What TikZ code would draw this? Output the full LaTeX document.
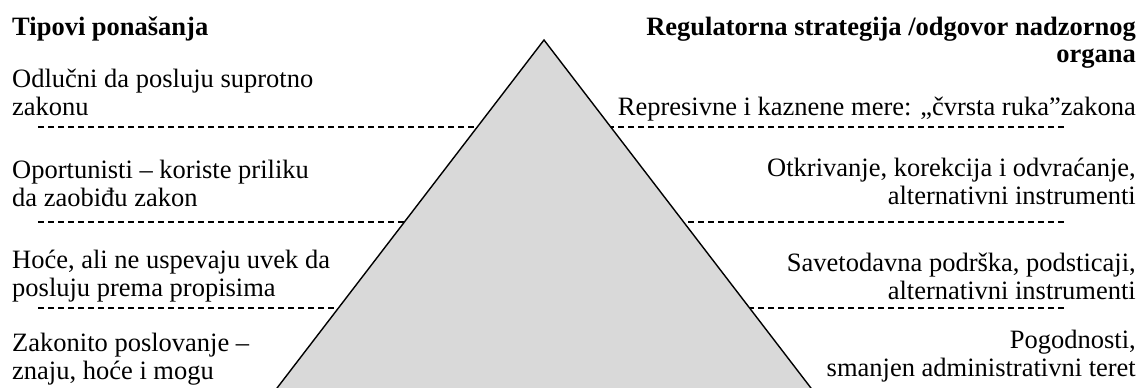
\documentclass[tikz,border=0pt]{standalone}
\usepackage{fontspec}
\setmainfont{Liberation Serif}
\usepackage{tikz}
\usetikzlibrary{positioning}

\definecolor{pyrgray}{RGB}{217,217,217}

\tikzset{
  lefttxt/.style={anchor=base west, align=left, inner sep=0pt},
  righttxt/.style={anchor=base east, align=right, inner sep=0pt},
  sepline/.style={dash pattern=on 6pt off 4pt, line width=1.2pt},
}

\begin{document}
\begin{tikzpicture}[x=1pt, y=-1pt, font=\fontsize{26.5}{28}\selectfont]
  \useasboundingbox (0,0) rectangle (1148,388);
  % separators
  \foreach \y in {127,222,308}
    \draw[sepline] (38,\y) -- (1067,\y);
  % pyramid
  \coordinate (apex) at (544,40);
  \filldraw[fill=pyrgray, line width=1.4pt] (apex) -- (271.7,395) -- (816.3,395) -- cycle;
  % left column (anchored at the last baseline)
  \node[lefttxt, font=\fontsize{26.5}{28}\selectfont\bfseries] (tipovi) at (12,35) {Tipovi ponašanja};
  \node[lefttxt] (odlucni) at (12,115) {Odlučni da posluju suprotno\\zakonu};
  \node[lefttxt] (oport) at (12,206) {Oportunisti – koriste priliku\\da zaobiđu zakon};
  \node[lefttxt] (hoce) at (12,296) {Hoće, ali ne uspevaju uvek da\\posluju prema propisima};
  \node[lefttxt] (zakonito) at (12,379) {Zakonito poslovanje –\\znaju, hoće i mogu};
  % right column
  \node[righttxt, font=\fontsize{26.5}{27}\selectfont\bfseries] (strat) at (1136,62) {Regulatorna strategija /odgovor nadzornog\\organa};
  \node[righttxt] (repres) at (1136,115) {Represivne i kaznene mere: „čvrsta ruka”zakona};
  \node[righttxt] (otkriv) at (1136,204) {Otkrivanje, korekcija i odvraćanje,\\alternativni instrumenti};
  \node[righttxt] (savet) at (1136,299) {Savetodavna podrška, podsticaji,\\alternativni instrumenti};
  \node[righttxt] (pogod) at (1136,376) {Pogodnosti,\\smanjen administrativni teret};
\end{tikzpicture}
\end{document}
